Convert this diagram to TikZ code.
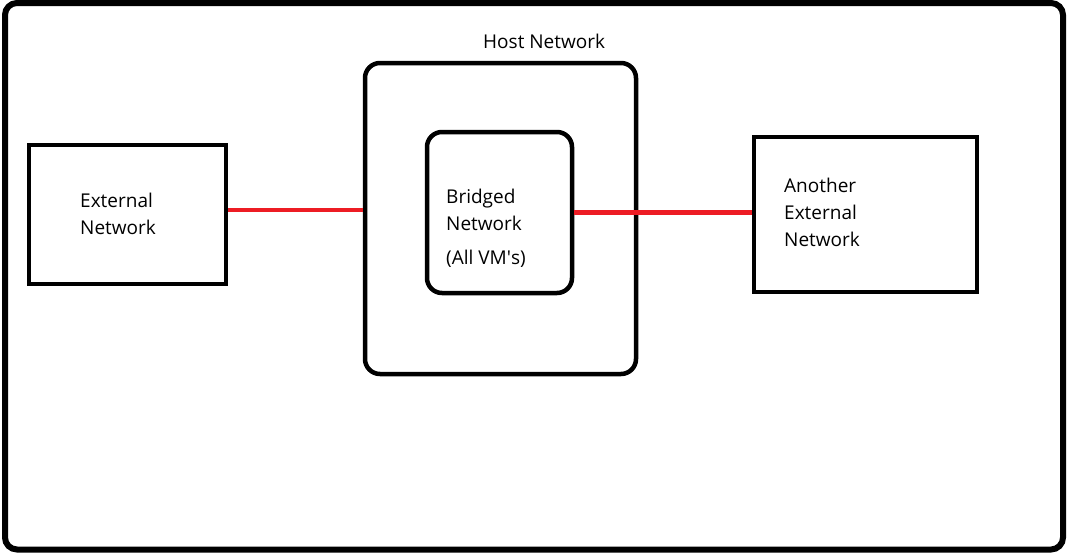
\documentclass[tikz,border=0pt]{standalone}
\usepackage{fontspec}
\setmainfont{Open Sans}
\usetikzlibrary{calc}

\definecolor{paintred}{RGB}{237,28,36}

\begin{document}
\begin{tikzpicture}[x=1pt,y=-1pt,
    box/.style={draw,line width=4.5pt,inner sep=0pt},
    roundbox/.style={box,rounded corners=15pt},
    label/.style={anchor=base west,inner sep=0pt,align=left,
        font=\fontsize{19}{27}\selectfont},
    redline/.style={color=paintred,line width=4.5pt}]
\useasboundingbox (0,0) rectangle (1070,557);
%\draw[help lines] (0,0) grid (1070,557);
\draw[line width=6pt,rounded corners=12pt] (5,3) rectangle (1063,549.5);
\node[box,minimum width=197pt,minimum height=139pt] (ext) at (127.5,214.5) {};
\node[roundbox,minimum width=271pt,minimum height=311pt] (host) at (500.5,218.5) {};
\node[roundbox,minimum width=145pt,minimum height=161pt] (bridge) at (499.5,212.5) {};
\node[box,minimum width=223pt,minimum height=155pt] (another) at (865.5,214.5) {};
% base of a multi-line label is its last line
\node[label] (exttext) at (80,234) {External\\Network};
\node[label] (hosttext) at (483,48) {Host Network};
\node[label] (bridgetext) at (446,230) {Bridged\\Network};
\node[label] (vmtext) at (446,264) {(All VM\textquotesingle s)};
\node[label] (anothertext) at (784,246) {Another\\External\\Network};
\draw[redline] ([yshift=4.5pt]ext.east) -- ([yshift=4.5pt]ext.east -| host.west);
\draw[redline] (bridge.east) -- (bridge.east -| another.west);
\end{tikzpicture}
\end{document}
